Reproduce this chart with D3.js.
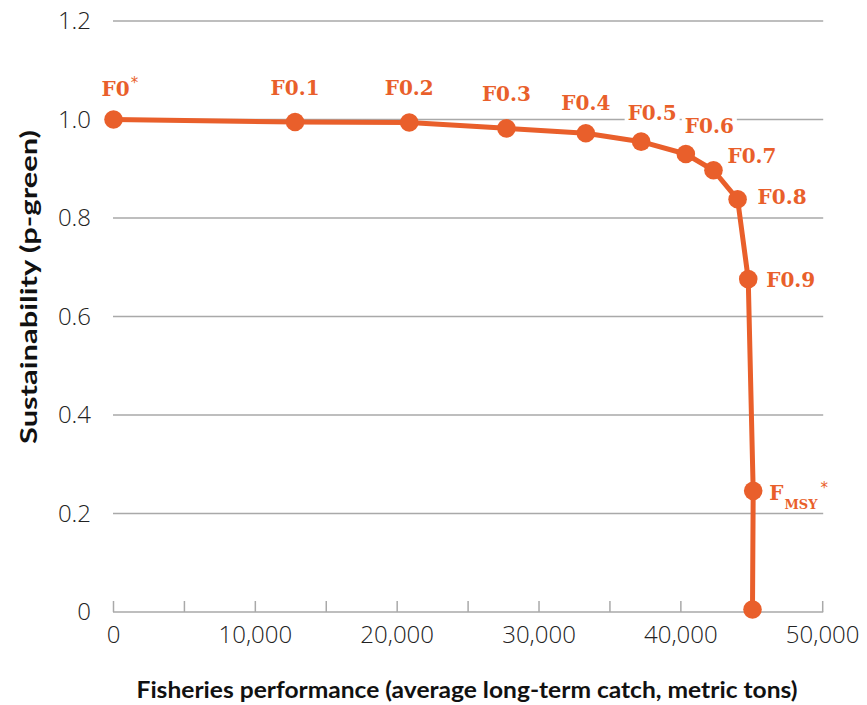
<!DOCTYPE html>
<html>
<head>
<meta charset="utf-8">
<script src="https://cdn.jsdelivr.net/npm/d3@7"></script>
<style>
  html, body { margin: 0; padding: 0; background: #fff; }
  svg { display: block; }
</style>
</head>
<body>
<svg id="chart" width="867" height="705"></svg>
<script>
// ---- data ----
const labels = ["F0", "F0.1", "F0.2", "F0.3", "F0.4", "F0.5", "F0.6", "F0.7", "F0.8", "F0.9", "FMSY", ""];
const catchValues = [0, 12800, 20850, 27700, 33300, 37200, 40350, 42300, 44000, 44750, 45100, 45050];
const sustainValues = [1.0, 0.995, 0.994, 0.982, 0.972, 0.955, 0.930, 0.897, 0.838, 0.676, 0.246, 0.005];
const xTicks = [0, 10000, 20000, 30000, 40000, 50000];
const xMinorTicks = [0, 5000, 10000, 15000, 20000, 25000, 30000, 35000, 40000, 45000, 50000];
const yTicks = [0, 0.2, 0.4, 0.6, 0.8, 1.0, 1.2];
const yTickLabels = ["0", "0.2", "0.4", "0.6", "0.8", "1.0", "1.2"];

// label placement relative to each point (layout, not data)
const labelLayout = [
  {dx: -12, dy: -24, anchor: "start"},
  {dx: 0, dy: -27, anchor: "middle"},
  {dx: 0, dy: -27, anchor: "middle"},
  {dx: 0, dy: -27, anchor: "middle"},
  {dx: 0, dy: -23, anchor: "middle"},
  {dx: 11, dy: -22, anchor: "middle"},
  {dx: -1, dy: -21, anchor: "start"},
  {dx: 14, dy: -7, anchor: "start"},
  {dx: 20, dy: 5, anchor: "start"},
  {dx: 18, dy: 8, anchor: "start"},
  {dx: 16, dy: 9, anchor: "start"},
  null
];

const ORANGE = "#e95f2b";
const GRID = "#a9a9a9";

const svg = d3.select("#chart");
const x = d3.scaleLinear().domain([0, 50000]).range([113.5, 822.7]);
const y = d3.scaleLinear().domain([0, 1.2]).range([612, 21]);

// gridlines (excluding 0, which is the axis)
svg.append("g")
  .selectAll("line")
  .data(yTicks.filter(d => d > 0))
  .join("line")
  .attr("x1", x(0) - 0.5).attr("x2", x(50000) + 0.5)
  .attr("y1", d => y(d)).attr("y2", d => y(d))
  .attr("stroke", GRID).attr("stroke-width", 1.5);

// x axis (line + minor ticks pointing up)
const xAxis = svg.append("g").attr("transform", `translate(0,${y(0)})`);
xAxis.append("line")
  .attr("x1", x(0) - 0.5).attr("x2", x(50000) + 0.5)
  .attr("stroke", GRID).attr("stroke-width", 1.5);
xAxis.selectAll("line.tick")
  .data(xMinorTicks)
  .join("line")
  .attr("class", "tick")
  .attr("x1", d => x(d)).attr("x2", d => x(d))
  .attr("y1", 0).attr("y2", -11)
  .attr("stroke", GRID).attr("stroke-width", 1.5);
xAxis.selectAll("text")
  .data(xTicks)
  .join("text")
  .attr("x", d => x(d))
  .attr("y", 31)
  .attr("text-anchor", "middle")
  .attr("font-family", "'Open Sans', sans-serif")
  .attr("font-weight", 300)
  .attr("font-size", 24)
  .attr("fill", "#222")
  .text(d => d3.format(",")(d));

// y tick labels
svg.append("g")
  .selectAll("text")
  .data(yTicks)
  .join("text")
  .attr("x", 91)
  .attr("y", d => y(d))
  .attr("dy", "0.35em")
  .attr("text-anchor", "end")
  .attr("font-family", "'Open Sans', sans-serif")
  .attr("font-weight", 300)
  .attr("font-size", 24)
  .attr("fill", "#222")
  .text((d, i) => yTickLabels[i]);

// axis titles
svg.append("text")
  .attr("x", 467).attr("y", 698)
  .attr("text-anchor", "middle")
  .attr("font-family", "Lato, sans-serif")
  .attr("font-weight", 700)
  .attr("font-size", 22)
  .attr("fill", "#111")
  .attr("textLength", 661)
  .attr("lengthAdjust", "spacingAndGlyphs")
  .text("Fisheries performance (average long-term catch, metric tons)");

svg.append("text")
  .attr("transform", "translate(37,287) rotate(-90)")
  .attr("text-anchor", "middle")
  .attr("font-family", "Lato, sans-serif")
  .attr("font-weight", 700)
  .attr("font-size", 22)
  .attr("fill", "#111")
  .attr("textLength", 314)
  .attr("lengthAdjust", "spacingAndGlyphs")
  .text("Sustainability (p-green)");

// data
const pts = catchValues.map((c, i) => ({c, s: sustainValues[i], label: labels[i], lay: labelLayout[i]}));

const bgLayer = svg.append("g");  // white label backgrounds (break gridlines)

svg.append("path")
  .datum(pts)
  .attr("fill", "none")
  .attr("stroke", ORANGE)
  .attr("stroke-width", 5)
  .attr("stroke-linejoin", "round")
  .attr("d", d3.line().x(d => x(d.c)).y(d => y(d.s)));

svg.append("g")
  .selectAll("circle")
  .data(pts)
  .join("circle")
  .attr("cx", d => x(d.c))
  .attr("cy", d => y(d.s))
  .attr("r", 9.3)
  .attr("fill", ORANGE);

// labels
const lg = svg.append("g")
  .attr("font-family", "'DejaVu Serif', serif")
  .attr("font-weight", 700)
  .attr("fill", ORANGE);

pts.forEach(d => {
  if (!d.lay || !d.label) return;
  const px = x(d.c) + d.lay.dx, py = y(d.s) + d.lay.dy;
  const t = lg.append("text")
    .attr("x", px).attr("y", py)
    .attr("text-anchor", d.lay.anchor)
    .attr("font-size", 20);
  if (d.label === "FMSY") {
    t.append("tspan").text("F");
    t.append("tspan").attr("font-size", 13).attr("dy", 9).attr("dx", 1).text("MSY");
    t.append("tspan").attr("font-family", "'DejaVu Sans', sans-serif").attr("font-weight", 400)
      .attr("font-size", 15).attr("dy", -16).attr("dx", 3).text("*");
  } else if (d.label === "F0") {
    t.append("tspan").text("F0");
    t.append("tspan").attr("font-family", "'DejaVu Sans', sans-serif").attr("font-weight", 400)
      .attr("font-size", 15).attr("dy", -8).attr("dx", 1).text("*");
  } else {
    t.text(d.label);
  }
  const bb = t.node().getBBox();
  bgLayer.append("rect")
    .attr("x", bb.x - 3).attr("y", bb.y + 2)
    .attr("width", bb.width + 6).attr("height", bb.height - 2)
    .attr("fill", "#fff");
});
</script>
</body>
</html>
